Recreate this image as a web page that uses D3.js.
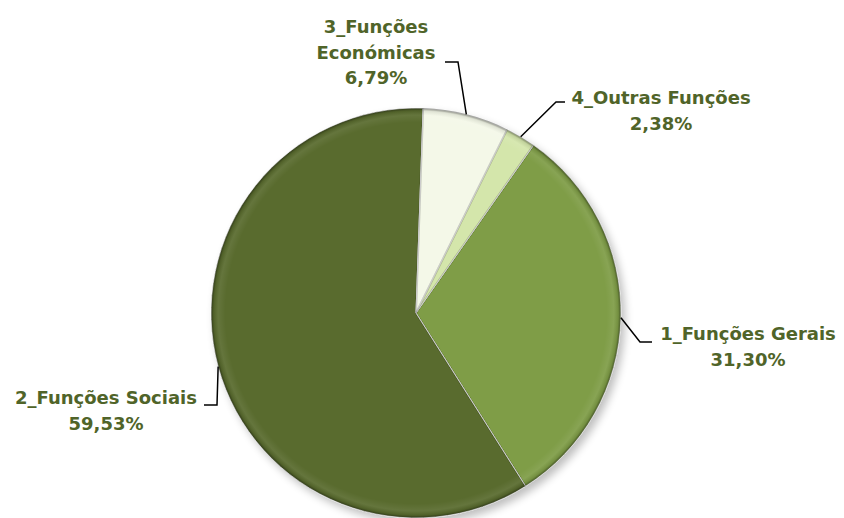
<!DOCTYPE html>
<html><head><meta charset="utf-8">
<script src="https://cdn.jsdelivr.net/npm/d3@7"></script>
<style>html,body{margin:0;padding:0;background:#fff;}svg{display:block;}</style>
</head><body>
<svg id="chart" width="844" height="518"></svg>
<script>
const categories = ["1_Funções Gerais", "2_Funções Sociais", "3_Funções Económicas", "4_Outras Funções"];
const labelLines = [["1_Funções Gerais"], ["2_Funções Sociais"], ["3_Funções", "Económicas"], ["4_Outras Funções"]];
const values = [31.30, 59.53, 6.79, 2.38];
const valueLabels = ["31,30%", "59,53%", "6,79%", "2,38%"];
const colors = ["#7F9D47", "#596B2E", "#F4F8E8", "#D4E6AB"];

const svg = d3.select("#chart");
const W = 844, H = 518;
const cx = 416, cy = 313, R = 205;
const startDeg = 35;

const defs = svg.append("defs");
const blur = defs.append("filter").attr("id","shadow").attr("x","-20%").attr("y","-20%").attr("width","140%").attr("height","140%");
blur.append("feGaussianBlur").attr("stdDeviation", 4);

const rim = defs.append("radialGradient").attr("id","rim").attr("cx",0).attr("cy",0).attr("r",R).attr("gradientUnits","userSpaceOnUse");
rim.append("stop").attr("offset", 0.93).attr("stop-color","#fff").attr("stop-opacity",0);
rim.append("stop").attr("offset", 0.965).attr("stop-color","#fff").attr("stop-opacity",0.07);
rim.append("stop").attr("offset", 0.985).attr("stop-color","#000").attr("stop-opacity",0.08);
rim.append("stop").attr("offset", 1).attr("stop-color","#000").attr("stop-opacity",0.3);

const pie = d3.pie().sort(null).value(d => d)
  .startAngle(startDeg * Math.PI / 180)
  .endAngle(startDeg * Math.PI / 180 + 2 * Math.PI);
const arcs = pie(values);
const arc = d3.arc().innerRadius(0).outerRadius(R);

const g = svg.append("g").attr("transform", `translate(${cx},${cy})`);

// shadow
g.append("circle").attr("cx", 4).attr("cy", 5).attr("r", R).attr("fill", "#000").attr("opacity", 0.25).attr("filter","url(#shadow)");

g.selectAll("path.slice").data(arcs).join("path")
  .attr("class","slice")
  .attr("d", arc)
  .attr("fill", (d,i) => colors[i])
  .attr("stroke", "#ffffff").attr("stroke-width", 1);

// bevel rim overlay
g.selectAll("path.rim").data(arcs).join("path")
  .attr("class","rim")
  .attr("d", arc)
  .attr("fill", "url(#rim)");

// inner bevel along slice edges
g.selectAll("path.edge").data(arcs).join("path")
  .attr("class","edge")
  .attr("d", d3.arc().innerRadius(0).outerRadius(R - 1))
  .attr("fill","none")
  .attr("stroke", "#000").attr("stroke-opacity", 0.1).attr("stroke-width", 2);

// labels
const labelLayout = [
  {x: 748, y: 334, elbow: [[640, 342], [652, 342]]},
  {x: 106, y: 398, elbow: [[217, 405], [204, 405]]},
  {x: 376, y: 27,  elbow: [[458, 62], [445, 62]]},
  {x: 661, y: 98,  elbow: [[556, 102], [565, 102]]}
];
const textColor = "#506429";

arcs.forEach((d, i) => {
  const mid = (d.startAngle + d.endAngle) / 2;
  const p0 = [cx + R * Math.sin(mid), cy - R * Math.cos(mid)];
  const L = labelLayout[i];
  svg.append("path")
    .attr("d", d3.line()([p0, ...L.elbow]))
    .attr("fill","none").attr("stroke","#000").attr("stroke-width",1.5);
  const lines = labelLines[i].concat([valueLabels[i]]);
  const t = svg.append("text")
    .attr("text-anchor","middle")
    .attr("font-family","'DejaVu Sans', sans-serif")
    .attr("font-weight","bold")
    .attr("font-size", 18)
    .attr("fill", textColor);
  lines.forEach((s, k) => {
    t.append("tspan").attr("x", L.x).attr("y", L.y + k * 25.5).attr("dy","0.35em").text(s);
  });
});
</script>
</body></html>
